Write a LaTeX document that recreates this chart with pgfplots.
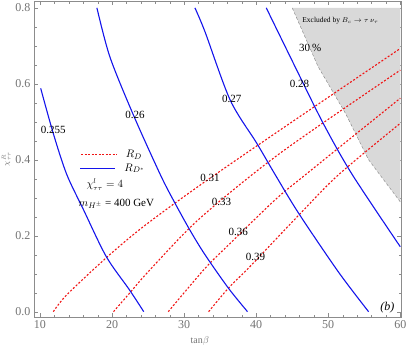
\documentclass[border=0pt]{standalone}
\usepackage{fontspec}
\setmainfont{Liberation Serif}
\usepackage{pgfplots}
\pgfplotsset{compat=1.18}
\definecolor{framec}{gray}{0.55}
\definecolor{tickc}{gray}{0.45}
\definecolor{exclc}{gray}{0.85}
\definecolor{rdblue}{RGB}{20,20,235}
\definecolor{rdred}{RGB}{240,20,20}
\tikzset{rdline/.style={draw=rdred, line width=1.1pt, dash pattern=on 2pt off 1.8pt},
         rdsline/.style={draw=rdblue, line width=1.1pt}}
\begin{document}
\begin{tikzpicture}
\begin{axis}[
  scale only axis, width=367pt, height=316pt,
  xmin=9.17, xmax=60.1, ymin=-0.014, ymax=0.818,
  axis line style={framec}, tick style={framec}, tick align=inside,
  major tick length=4pt, minor tick length=2.5pt,
  xtick={10,20,30,40,50,60}, ytick={0,0.2,0.4,0.6,0.8},
  minor x tick num=4, minor y tick num=3,
  /pgf/number format/assume math mode=true,
  ticklabel style={font=\fontsize{12}{12}\selectfont, text=tickc},
  yticklabel style={/pgf/number format/.cd,fixed,fixed zerofill,precision=1},
  xlabel={tan$\beta$}, ylabel={$\chi^{R}_{\tau\tau}$},
  xlabel style={font=\fontsize{10}{10}\selectfont, text=tickc,
    at={(axis description cs:0.452,0)}, anchor=north, yshift=-16pt},
  ylabel style={font=\fontsize{8}{8}\selectfont, text=tickc, yshift=-2pt},
]
% excluded region (B_c -> tau nu)
\addplot[fill=exclc, draw=none] coordinates {
  (45.0,0.80) (48.6,0.645) (52.4,0.522) (55.6,0.40) (60,0.289) (60,0.80) } -- cycle;
\addplot[gray, densely dashed, thin] coordinates {
  (45.0,0.80) (48.6,0.645) (52.4,0.522) (55.6,0.40) (60,0.289) };

% R_D contours
\addplot[rdline, smooth, tension=0.5] coordinates {
  (11.85,0) (13.7,0.044) (19.2,0.142) (24.35,0.224) (32.2,0.333) (43.3,0.478) (60,0.693) };
\addplot[rdline, smooth, tension=0.5] coordinates {
  (20.2,0) (22.4,0.048) (25.2,0.109) (32.2,0.246) (43.3,0.417) (60,0.636) };
\addplot[rdline, smooth, tension=0.5] coordinates {
  (27.8,0) (32.9,0.114) (36.4,0.18) (42.6,0.294) (46.8,0.36) (60,0.562) };
\addplot[rdline, smooth, tension=0.5] coordinates {
  (33.4,0) (36.15,0.062) (39.2,0.12) (45.8,0.252) (51.4,0.36) (60,0.496) };

% R_D* contours
\addplot[rdsline, smooth, tension=0.5] coordinates {
  (10.1,0.588) (11.85,0.469) (13.7,0.362) (16.0,0.270) (19.2,0.145) (22.4,0.058) (24.4,0) };
\addplot[rdsline, smooth, tension=0.5] coordinates {
  (17.9,0.80) (19.7,0.671) (22.96,0.518) (26.67,0.362) (28.5,0.294) (30.8,0.215) (32.9,0.150) (36.15,0.062) (38.8,0) };
\addplot[rdsline, smooth, tension=0.5] coordinates {
  (31.5,0.80) (32.9,0.737) (36.4,0.557) (40.1,0.443) (42.6,0.362) (45.9,0.259) (51.4,0.105) (55.6,0) };
\addplot[rdsline, smooth, tension=0.5] coordinates {
  (41.4,0.80) (45.4,0.645) (49.3,0.496) (53.3,0.362) (60,0.171) };

% legend samples
\addplot[draw=rdred, line width=0.9pt, dash pattern=on 2pt off 1.5pt] coordinates {(15.7,0.414) (20.6,0.414)};
\addplot[rdsline] coordinates {(15.6,0.376) (20.4,0.376)};

% contour labels and legend text
\begin{scope}[every node/.style={font=\fontsize{11}{11}\selectfont, inner sep=0pt}]
\node[anchor=west] at (axis cs:21.9,0.414) {$R_D$};
\node[anchor=west] at (axis cs:21.7,0.378) {$R_{D^*}$};
\node at (axis cs:11.85,0.478) {0.255};
\node at (axis cs:23.2,0.518) {0.26};
\node at (axis cs:36.6,0.559) {0.27};
\node at (axis cs:46.0,0.601) {0.28};
\node at (axis cs:33.6,0.351) {0.31};
\node at (axis cs:35.2,0.290) {0.33};
\node at (axis cs:37.5,0.210) {0.36};
\node at (axis cs:39.9,0.143) {0.39};
\node[font=\fontsize{10.5}{10.5}\selectfont] at (axis cs:19.0,0.334) {$\chi^{l}_{\tau\tau}=4$};
\node at (axis cs:20.6,0.285) {$m_{H^\pm}$ = 400 GeV};
\node at (axis cs:58.2,0.012) {\fontsize{12}{12}\selectfont\itshape (b)};
\node[font=\fontsize{7.5}{7.5}\selectfont] at (axis cs:51.7,0.766) {Excluded by $B_c\to\tau\,\nu_\tau$};
\node at (axis cs:47.5,0.694) {30\,\%};
\end{scope}
\end{axis}
\pgfresetboundingbox
\path[use as bounding box] ([xshift=-34pt,yshift=-32pt]current axis.south west) rectangle ([xshift=8pt,yshift=1pt]current axis.north east);
\end{tikzpicture}
\end{document}
